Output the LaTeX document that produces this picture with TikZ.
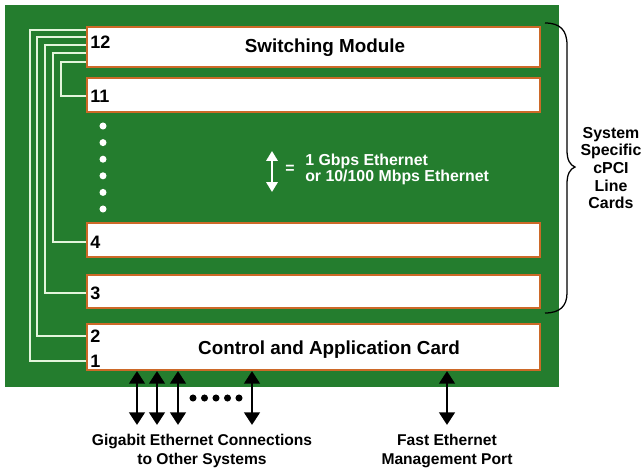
\documentclass[tikz,border=0pt]{standalone}
\usepackage{fontspec}
\setmainfont{Liberation Sans}
\usetikzlibrary{arrows.meta}
\definecolor{BoardGreen}{RGB}{36,125,46}
\definecolor{CardEdge}{RGB}{205,105,40}
\definecolor{TraceWhite}{RGB}{228,245,220}

\begin{document}
\begin{tikzpicture}[x=0.025cm, y=-0.025cm,
    card/.style={rectangle, draw=CardEdge, line width=1.4pt, fill=white,
      minimum width=11.325cm, inner sep=0pt},
    slot/.style={font=\fontsize{12.8}{14}\selectfont\bfseries, anchor=west, inner sep=0pt},
    title/.style={font=\fontsize{13.4}{15}\selectfont\bfseries, inner sep=0pt},
    trace/.style={draw=TraceWhite, line width=1.1pt},
    link/.style={line width=2.1pt,
      {Triangle[length=9pt,width=11pt]}-{Triangle[length=9pt,width=11pt]}},
    caption/.style={font=\fontsize{11.1}{13.5}\selectfont\bfseries, align=center, inner sep=0pt}]
  \useasboundingbox (0,0) rectangle (641,469);

  % board and cards
  \node (board) [rectangle, fill=BoardGreen, minimum width=13.85cm, minimum height=9.55cm,
    inner sep=0pt] at (282,196) {};
  \node (c12) [card, minimum height=1cm] at (313.5,47) {};
  \node (c11) [card, minimum height=0.85cm] at (313.5,95) {};
  \node (c4) [card, minimum height=0.85cm] at (313.5,240) {};
  \node (c3) [card, minimum height=0.825cm] at (313.5,291.5) {};
  \node (ctrl) [card, minimum height=1.15cm] at (313.5,347) {};

  \node (swmod) [title] at (325,48) {Switching Module};
  \node (ctrltitle) [title] at (329,350) {Control and Application Card};

  % slot numbers
  \node (n12) [slot] at (90,42) {12};
  \node (n11) [slot] at (90,96) {11};
  \node (n4) [slot] at (90,242) {4};
  \node (n3) [slot] at (90,293) {3};
  \node (n2) [slot] at (90,336) {2};
  \node (n1) [slot] at (90,361) {1};

  % traces from the switching module
  \foreach \ly/\lx/\n/\c in {30/30/n1/ctrl, 37/37/n2/ctrl, 45/45/n3/c3, 53/53/n4/c4, 62/61/n11/c11}
    \draw[trace] (c12.west |- 0,\ly) -| (\lx,0 |- \n) -- (\n -| \c.west);

  \foreach \i in {0,...,5}
    \fill[white] (103,{126+16.6*\i}) circle[radius=2.5pt];

  % legend
  \coordinate (legtop) at (272,151);
  \coordinate (legbot) at (272,192);
  \draw[white, line width=1.5pt,
    {Triangle[length=7pt,width=8pt]}-{Triangle[length=7pt,width=8pt]}] (legtop) -- (legbot);
  \node (equals) [white, font=\fontsize{11.3}{12}\selectfont\bfseries, inner sep=0pt] at (290,169) {=};
  \node (legend) [white, font=\fontsize{11.3}{10}\selectfont\bfseries, align=left, anchor=west,
    inner sep=0pt] at (305,169) {1 Gbps Ethernet\\or 10/100 Mbps Ethernet};

  % external connections
  \foreach \gx [count=\k] in {137,157,178,252} {
    \coordinate (g\k) at (\gx,425);
    \draw[link] (ctrl.south -| g\k) -- (g\k);
  }
  \foreach \i in {0,...,4}
    \fill (193+11.5*\i,398) circle[radius=2.5pt];
  \coordinate (mgmt) at (447,425);
  \draw[link] (ctrl.south -| mgmt) -- (mgmt);

  \node (gige) [caption] at (202,451) {Gigabit Ethernet Connections\\to Other Systems};
  \node (fe) [caption] at (447,451) {Fast Ethernet\\Management Port};

  % brace
  \draw[line width=0.9pt] (545,23) .. controls (560,23) and (567,30) .. (567,45) -- (567,150)
    .. controls (567,160) and (570,165) .. (575,167)
    .. controls (570,169) and (567,174) .. (567,184) -- (567,293)
    .. controls (567,306) and (560,313) .. (545,313);
  \node (linecards) [caption, font=\fontsize{11.3}{12.6}\selectfont\bfseries] at (611,168)
    {System\\Specific\\cPCI\\Line\\Cards};
\end{tikzpicture}
\end{document}
